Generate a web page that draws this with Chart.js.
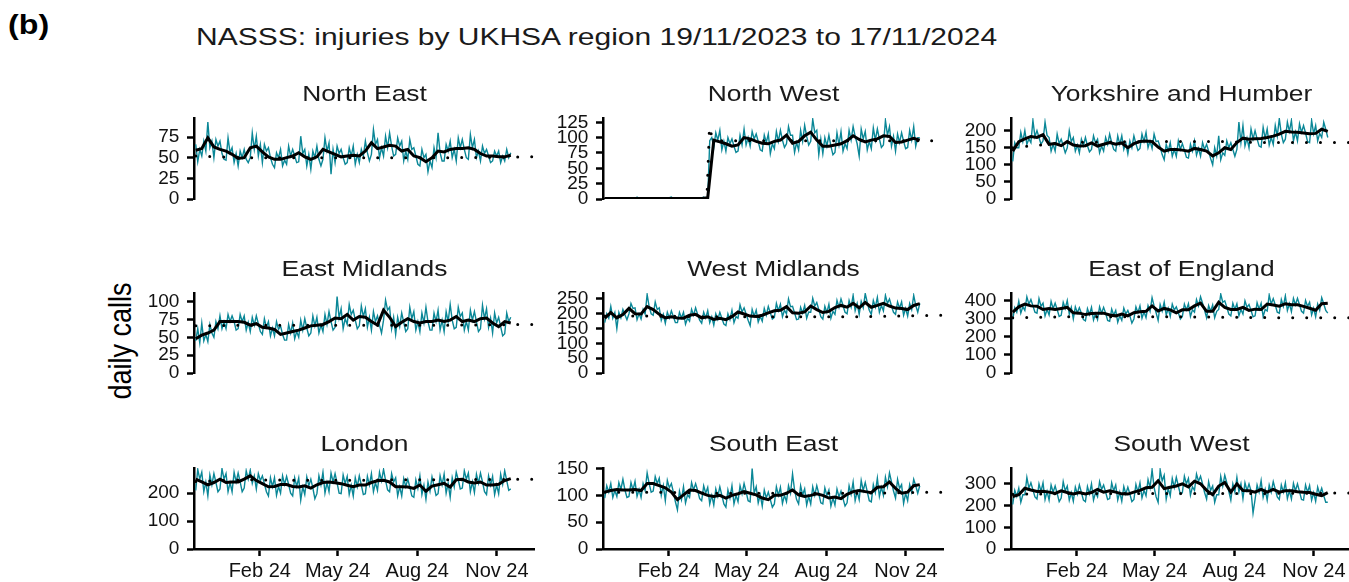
<!DOCTYPE html>
<html>
<head>
<meta charset="utf-8">
<title>NASSS injuries by UKHSA region</title>
<script src="https://cdn.jsdelivr.net/npm/chart.js@4.4.1/dist/chart.umd.min.js"></script>
<style>
  body { margin: 0; width: 1349px; height: 582px; overflow: hidden; background: #fff; position: relative;
         font-family: "Liberation Sans", Arial, sans-serif; color: #1a1a1a; }
  .box { position: absolute; }
  .ptitle { position: absolute; width: 341px; text-align: center; font-size: 22px; line-height: 22px;
            transform: scaleX(1.2); white-space: nowrap; }
  #tag { position: absolute; left: 8px; top: 11px; font-size: 28px; line-height: 28px; font-weight: bold;
         transform: scaleX(1.15); transform-origin: left center; color: #000; }
  #title { position: absolute; left: 196px; top: 25px; font-size: 24px; line-height: 24px;
           transform: scaleX(1.25); transform-origin: left center; white-space: nowrap; }
  #ylab { position: absolute; left: 121px; top: 341px; font-size: 27px; line-height: 27px; white-space: nowrap;
          transform: translate(-50%, -50%) rotate(-90deg) scaleY(1.15); color: #000; }
</style>
</head>
<body>
<div id="tag">(b)</div>
<div id="title">NASSS: injuries by UKHSA region 19/11/2023 to 17/11/2024</div>
<div id="ylab">daily calls</div>

<script>
// x = days since 19/11/2023; daily calls read 3 times a week, 7-day average read weekly
const monthTicks = [74, 164, 256, 348];
const monthLabels = ['Feb 24', 'May 24', 'Aug 24', 'Nov 24'];

const neDaily = [66,45,60, 52,70,58, 93,62,70, 50,72,64, 70,55,48, 47,74,56, 62,44,55, 40,58,50, 60,48,44, 50,80,60, 76,52,66, 44,66,58, 62,50,42, 38,56,50, 60,40,47, 42,64,52, 60,52,44, 45,76,55, 60,40,54, 36,58,50, 64,48,40, 48,74,58, 68,30,60, 44,64,55, 60,50,42, 44,62,52, 64,42,54, 44,60,52, 70,56,46, 54,84,66, 72,50,62, 52,76,62, 80,64,52, 54,74,64, 70,46,58, 48,72,60, 62,52,42, 40,60,50, 54,33,46, 38,62,50, 80,56,46, 46,66,58, 70,50,60, 46,74,62, 72,60,50, 48,78,62, 72,50,58, 46,64,55, 60,52,44, 46,58,52, 58,44,52, 46,60,50, 56];
const neAvg = [59,61,74,63,60,58,54,49,50,62,64,57,51,48,48,50,52,56,51,48,51,60,57,54,51,52,53,52,58,68,61,63,65,64,58,60,52,50,45,50,58,57,60,61,61,62,60,55,52,52,51,51,53];
const neBase = [52, 50, 50, 50, 50, 50, 51];

const nwDaily = [1,0,2, 0,1,0, 2,0,1, 1,0,0, 2,1,0, 0,3,1, 1,0,2, 0,2,0, 1,0,1, 2,1,0, 0,1,2, 3,0,1, 1,0,0, 0,2,1, 1,0,2, 2,0,0, 1,3,0, 2,95,100, 84,108,96, 112,80,94, 78,100,90, 98,86,76, 78,104,88, 114,88,100, 86,110,98, 106,94,80, 78,104,92, 106,74,90, 82,110,94, 112,96,84, 90,118,104, 104,76,92, 80,112,94, 120,102,88, 94,130,108, 112,72,98, 74,100,86, 104,86,72, 76,108,88, 110,78,90, 82,112,96, 118,102,90, 70,114,98, 110,80,94, 82,116,96, 114,98,84, 88,128,104, 118,86,102, 78,106,92, 108,94,82, 84,112,96, 118,86,100, 100];
const nwAvg = [1,1,1,1,1,1,1,1,1,1,1,1,1,1,1,1,1,2,96,93,90,86,88,100,98,94,91,90,94,96,104,91,94,103,109,96,86,86,88,90,95,103,97,93,96,98,103,102,92,93,96,99,96];
const nwBaseDays = [0, 118, 121, 124, 135, 390];
const nwBase = [0, 0, 118, 100, 95, 95];

const yhDaily = [110,165,150, 150,195,168, 200,160,176, 165,230,182, 200,180,160, 170,225,186, 180,140,160, 140,190,162, 175,156,135, 150,200,168, 180,140,158, 135,175,156, 180,156,138, 145,185,164, 175,135,155, 140,180,160, 190,165,145, 140,185,160, 185,145,164, 132,170,150, 185,162,142, 148,190,168, 195,150,170, 148,190,168, 170,152,130, 115,160,140, 165,125,145, 125,170,145, 162,143,122, 120,160,140, 170,128,148, 125,165,145, 160,140,118, 100,150,126, 185,115,135, 128,170,150, 165,145,125, 145,225,165, 215,155,178, 150,205,175, 200,176,155, 152,210,177, 205,158,180, 160,215,184, 235,190,165, 175,225,198, 230,170,196, 170,220,195, 215,193,168, 165,230,191, 215,170,192, 180,225,204, 180];
const yhAvg = [140,168,176,183,180,188,160,162,156,168,158,155,156,164,155,160,165,160,164,150,162,168,170,168,152,140,145,145,143,140,148,145,140,126,135,150,145,165,178,175,176,177,180,184,190,198,196,195,193,191,192,204,198];
const yhBase = [150, 165, 167, 168, 168, 165, 165];

const emDaily = [45,62,42, 70,45,54, 44,68,56, 50,72,62, 80,62,72, 62,82,72, 80,72,60, 62,82,72, 80,60,71, 58,78,67, 80,69,58, 54,76,64, 72,52,63, 52,72,61, 66,54,46, 46,68,56, 70,48,58, 50,74,60, 76,63,52, 56,80,66, 78,56,67, 58,82,68, 86,72,60, 64,107,77, 90,62,76, 68,96,82, 88,74,62, 66,94,79, 90,64,78, 60,86,72, 80,67,56, 74,102,88, 92,62,78, 54,78,65, 84,71,58, 62,92,76, 86,60,72, 58,84,70, 92,72,60, 60,84,72, 88,60,74, 58,86,72, 96,74,62, 64,92,79, 84,60,72, 60,88,74, 86,72,58, 62,95,76, 90,64,77, 56,84,70, 78,65,52, 55,84,72, 78];
const emAvg = [48,53,56,60,72,72,72,72,71,67,69,64,63,61,54,56,58,60,63,66,67,68,72,77,76,82,74,79,78,72,67,88,78,65,71,76,72,70,72,72,74,72,74,79,72,74,72,76,77,70,65,72,70];
const emBase = [66, 67, 67, 67, 67, 67, 68];

const wmDaily = [170,200,185, 225,185,204, 150,205,186, 215,197,180, 200,235,218, 220,180,200, 182,215,199, 265,224,200, 195,240,214, 220,178,198, 168,205,186, 210,190,170, 170,205,186, 205,165,185, 175,215,195, 220,198,178, 168,205,186, 210,170,190, 162,200,181, 205,185,165, 160,200,180, 212,170,190, 185,230,206, 220,199,178, 160,215,192, 212,172,191, 175,218,195, 225,203,182, 188,235,210, 232,190,212, 200,250,224, 225,203,180, 182,222,202, 228,185,206, 205,252,226, 238,214,190, 182,225,204, 232,185,208, 198,245,221, 250,228,205, 200,245,222, 262,210,235, 198,242,220, 268,238,212, 198,245,222, 255,205,228, 210,262,235, 250,226,205, 198,240,219, 240,195,218, 192,235,214, 262,228,205, 235];
const wmAvg = [185,204,186,197,218,200,199,224,214,198,186,190,186,185,195,198,186,190,181,185,180,190,206,199,192,191,195,203,210,212,224,203,202,206,226,214,204,208,221,228,222,235,220,238,222,228,235,226,219,218,214,228,234];
const wmBase = [192, 192, 190, 190, 190, 190, 195];

const eeDaily = [295,360,335, 395,330,365, 345,420,380, 405,370,335, 330,410,368, 385,315,350, 320,395,355, 385,350,312, 318,390,356, 400,325,362, 298,365,332, 360,330,295, 288,355,322, 362,292,328, 295,365,330, 362,330,290, 285,352,320, 345,280,315, 290,358,325, 345,315,275, 298,365,332, 370,302,338, 305,372,340, 415,370,332, 290,378,342, 390,320,356, 312,380,348, 365,332,298, 312,380,348, 382,312,348, 335,405,370, 420,385,345, 305,372,340, 375,305,340, 350,435,390, 398,362,325, 315,385,350, 382,315,350, 325,398,362, 378,345,310, 315,388,352, 385,312,350, 342,430,380, 410,375,335, 330,405,368, 425,345,382, 338,412,376, 412,376,340, 330,400,367, 390,320,357, 310,380,346, 415,382,345, 330];
const eeAvg = [335,365,380,370,368,350,355,350,356,362,332,330,322,328,330,330,320,315,325,315,332,338,340,370,342,356,348,332,348,348,370,385,340,340,390,362,350,350,362,345,352,350,380,375,368,382,376,376,367,357,346,382,385];
const eeBase = [305, 310, 310, 310, 308, 305, 305];

const ldDaily = [210,285,250, 275,205,240, 190,265,230, 270,238,205, 215,288,250, 270,205,238, 205,275,240, 272,240,205, 218,280,250, 282,235,262, 215,270,245, 262,234,205, 190,255,223, 255,192,224, 200,262,231, 260,231,200, 190,255,224, 255,175,222, 195,258,226, 250,218,180, 198,262,230, 275,200,238, 205,272,240, 270,237,200, 198,265,234, 260,195,228, 190,255,223, 262,229,195, 198,260,229, 270,205,238, 210,275,244, 285,246,212, 205,270,240, 255,190,223, 190,252,223, 250,222,190, 185,248,217, 262,195,229, 178,240,207, 258,225,192, 198,262,230, 268,200,235, 185,255,222, 275,248,215, 218,280,250, 272,205,240, 202,268,236, 272,240,205, 195,262,229, 260,195,229, 198,268,232, 280,245,210, 215];
const ldAvg = [250,240,230,238,250,238,240,240,250,262,245,234,223,224,231,231,224,222,226,218,230,238,240,237,234,228,223,229,229,238,244,246,240,223,223,222,217,229,207,225,230,235,222,248,250,240,236,240,229,229,232,245,252];
const ldBase = [242, 248, 246, 246, 248, 248, 250];

const seDaily = [95,118,106, 122,96,109, 98,124,111, 130,110,96, 98,124,110, 126,98,111, 96,122,109, 142,122,106, 108,135,122, 132,100,118, 90,128,114, 122,106,88, 73,108,92, 116,86,101, 96,124,110, 122,109,94, 90,118,104, 115,84,100, 82,112,98, 116,100,84, 78,110,95, 118,84,100, 88,118,103, 122,107,90, 88,150,104, 116,86,101, 80,110,95, 106,92,78, 84,116,100, 115,85,100, 88,118,104, 140,110,92, 84,118,101, 112,82,98, 84,116,100, 118,103,86, 84,114,100, 110,80,95, 82,112,97, 108,94,80, 86,118,102, 125,90,107, 92,128,109, 124,107,90, 88,120,105, 132,98,115, 100,134,116, 142,125,108, 95,130,113, 120,85,104, 90,120,106, 130,118,104, 118];
const seAvg = [106,109,111,110,110,111,109,122,122,118,114,106,92,101,110,109,104,100,98,100,95,100,103,107,104,101,95,92,100,100,104,110,101,98,100,103,100,95,97,94,102,107,109,107,105,115,116,125,113,104,106,118,120];
const seBase = [106, 106, 104, 104, 104, 104, 106];

const swDaily = [205,270,242, 280,215,250, 250,330,280, 305,272,240, 230,300,265, 305,228,266, 225,295,262, 290,256,218, 235,310,268, 290,225,260, 220,285,253, 295,260,225, 218,288,254, 300,225,260, 240,310,274, 295,262,228, 232,305,268, 295,225,262, 220,288,254, 285,253,218, 228,298,262, 305,235,270, 245,320,282, 365,284,240, 215,365,314, 340,230,278, 245,325,284, 330,290,252, 260,335,300, 325,248,286, 270,345,312, 335,300,260, 230,310,270, 290,215,250, 250,335,290, 340,306,265, 225,300,262, 330,262,300, 232,305,269, 300,268,165, 228,295,262, 315,238,275, 225,295,262, 310,275,240, 228,295,262, 305,232,268, 230,302,268, 300,264,228, 225,295,261, 292,225,260, 220,285,252, 280,246,215, 215];
const swAvg = [242,250,280,272,265,266,262,256,268,260,253,260,254,260,274,262,268,262,254,253,262,270,282,284,314,278,284,290,300,286,312,300,270,250,290,306,262,300,269,268,262,275,262,275,262,268,268,264,261,260,252,246,260];
const swBase = [252, 255, 256, 256, 256, 256, 258];

const baseDays = [0, 60, 120, 180, 240, 300, 390];

const panels = [
  { name: 'North East', row: 0, col: 0, daily: neDaily, avg: neAvg, baseX: baseDays, base: neBase, ticks: [0, 25, 50, 75], max: 98 },
  { name: 'North West', row: 0, col: 1, daily: nwDaily, avg: nwAvg, baseX: nwBaseDays, base: nwBase, ticks: [0, 25, 50, 75, 100, 125], max: 132 },
  { name: 'Yorkshire and Humber', row: 0, col: 2, daily: yhDaily, avg: yhAvg, baseX: baseDays, base: yhBase, ticks: [0, 50, 100, 150, 200], max: 237 },
  { name: 'East Midlands', row: 1, col: 0, daily: emDaily, avg: emAvg, baseX: baseDays, base: emBase, ticks: [0, 25, 50, 75, 100], max: 112 },
  { name: 'West Midlands', row: 1, col: 1, daily: wmDaily, avg: wmAvg, baseX: baseDays, base: wmBase, ticks: [0, 50, 100, 150, 200, 250], max: 270 },
  { name: 'East of England', row: 1, col: 2, daily: eeDaily, avg: eeAvg, baseX: baseDays, base: eeBase, ticks: [0, 100, 200, 300, 400], max: 441 },
  { name: 'London', row: 2, col: 0, daily: ldDaily, avg: ldAvg, baseX: baseDays, base: ldBase, ticks: [0, 100, 200], max: 290 },
  { name: 'South East', row: 2, col: 1, daily: seDaily, avg: seAvg, baseX: baseDays, base: seBase, ticks: [0, 50, 100, 150], max: 151 },
  { name: 'South West', row: 2, col: 2, daily: swDaily, avg: swAvg, baseX: baseDays, base: swBase, ticks: [0, 100, 200, 300], max: 373 }
];

// layout of the facet grid (pixels)
const colAxis = [194, 603, 1011];
const rowTop = [118, 293, 468];
const rowBottom = [199, 373, 549];
const plotW = 341;
const yAxisW = 60;
const xAxisH = 33;
// Chart.js keeps half a tick label + tick padding free above and below the y axis
const tickFont = { family: '"Liberation Sans", Arial, sans-serif', size: 19, lineHeight: 1.2 };
const tickPad = 7.6;
const edge = tickFont.size * tickFont.lineHeight / 2 + tickPad;   // 19px

const teal = '#0a8797';

panels.forEach(function (p, idx) {
  const bottomRow = p.row === 2;
  const box = document.createElement('div');
  box.className = 'box';
  const h = rowBottom[p.row] - rowTop[p.row];
  box.style.left = (colAxis[p.col] - yAxisW) + 'px';
  box.style.top = (rowTop[p.row] - edge) + 'px';
  box.style.width = (yAxisW + plotW) + 'px';
  box.style.height = (edge + h + (bottomRow ? xAxisH : edge)) + 'px';
  const canvas = document.createElement('canvas');
  canvas.id = 'panel' + idx;
  box.appendChild(canvas);
  document.body.appendChild(box);

  const title = document.createElement('div');
  title.className = 'ptitle';
  title.textContent = p.name;
  title.style.left = colAxis[p.col] + 'px';
  title.style.top = (rowTop[p.row] - 35) + 'px';
  document.body.appendChild(title);

  const dailyPts = p.daily.map((v, i) => ({ x: i * 7 / 3, y: v }));
  const avgPts = p.avg.map((v, i) => ({ x: i * 7, y: v }));
  const basePts = p.base.map((v, i) => ({ x: p.baseX[i], y: v }));

  new Chart(canvas.getContext('2d'), {
    type: 'line',
    data: {
      datasets: [
        { data: avgPts, borderColor: '#000', borderWidth: 3, order: 0 },
        { data: basePts, borderColor: '#000', borderWidth: 3, borderDash: [0, 14], borderCapStyle: 'round', order: 1 },
        { data: dailyPts, borderColor: teal, borderWidth: 1.4, order: 2 }
      ]
    },
    options: {
      responsive: true,
      maintainAspectRatio: false,
      animation: false,
      events: [],
      layout: { padding: 0 },
      elements: { point: { radius: 0 }, line: { tension: 0 } },
      plugins: { legend: { display: false }, tooltip: { enabled: false } },
      scales: {
        x: {
          type: 'linear',
          min: -2,
          max: 392,
          display: bottomRow,
          afterBuildTicks: (scale) => { scale.ticks = monthTicks.map(v => ({ value: v })); },
          afterFit: (scale) => { scale.height = bottomRow ? xAxisH : 0; },
          ticks: {
            color: '#111',
            font: { family: tickFont.family, size: 20 },
            padding: 3,
            maxRotation: 0,
            autoSkip: false,
            callback: (v) => monthLabels[monthTicks.indexOf(v)]
          },
          grid: { drawOnChartArea: false, tickLength: 7, tickWidth: 2.5, tickColor: '#000' },
          border: { display: true, color: '#000', width: 2.5 }
        },
        y: {
          min: 0,
          max: p.max,
          afterBuildTicks: (scale) => { scale.ticks = p.ticks.map(v => ({ value: v })); },
          afterFit: (scale) => { scale.width = yAxisW; },
          ticks: { color: '#111', font: tickFont, padding: tickPad, autoSkip: false },
          grid: { drawOnChartArea: false, tickLength: 7, tickWidth: 2.5, tickColor: '#000' },
          border: { display: true, color: '#000', width: 2.5 }
        }
      }
    }
  });
});
</script>
</body>
</html>
